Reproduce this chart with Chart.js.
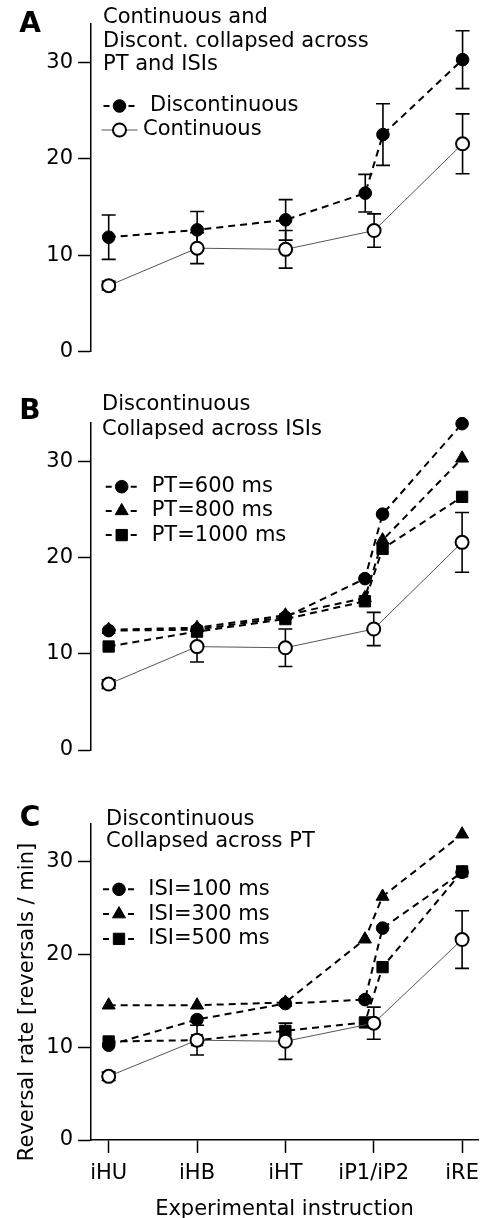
<!DOCTYPE html>
<html>
<head>
<meta charset="utf-8">
<title>Reversal rate</title>
<script src="https://cdn.jsdelivr.net/npm/chart.js@4.4.0/dist/chart.umd.min.js"></script>
<style>
  html, body { margin: 0; padding: 0; background: #fff; }
  #wrap { position: relative; width: 487px; height: 1218px; }
  canvas { position: absolute; left: 0; }
</style>
</head>
<body>
<div id="wrap">
  <canvas id="panelA" width="487" height="380" style="top:0px"></canvas>
  <canvas id="panelB" width="487" height="390" style="top:380px"></canvas>
  <canvas id="panelC" width="487" height="458" style="top:760px"></canvas>
</div>
<script>
// categorias e posicoes no eixo x (iP1 e iP2 ficam levemente deslocados)
const categories = ['iHU', 'iHB', 'iHT', 'iP1/iP2', 'iRE'];
const yTicks = [0, 10, 20, 30];
const contX = [0, 1, 2, 3, 4];
const discX = [0, 1, 2, 2.9, 3.1, 4];

// continuo (igual nos tres paineis)
const contMean = [6.85, 10.74, 10.62, 12.57, 21.57];
const contErr = [0.45, 1.6, 1.95, 1.73, 3.1];

// painel A - descontinuo
const discMean = [11.88, 12.64, 13.68, 16.45, 22.53, 30.3];
const discErr = [2.3, 1.9, 2.1, 1.95, 3.2, 3.0];

// painel B - por PT
const pt600 = [12.4, 12.5, 13.8, 17.8, 24.5, 33.9];
const pt800 = [12.5, 12.7, 14.0, 15.8, 21.8, 30.3];
const pt1000 = [10.75, 12.3, 13.6, 15.45, 20.9, 26.3];

// painel C - por ISI
const isi100 = [10.2, 12.96, 14.68, 15.1, 22.8, 28.8];
const isi300 = [14.5, 14.5, 14.8, 21.6, 26.2, 32.9];
const isi500 = [10.6, 10.74, 11.74, 12.65, 18.6, 28.9];

const FONT = 'DejaVu Sans';

function contSet(label) {
    return {
        label: label,
        data: contX.map((x, i) => ({ x: x, y: contMean[i] })),
        errors: contErr,
        showLine: true,
        clip: false,
        borderColor: '#555',
        borderWidth: 1,
        pointStyle: 'circle',
        pointRadius: 6.5,
        pointBorderWidth: 2,
        pointBackgroundColor: '#fff',
        pointBorderColor: '#000'
    };
}

function discSet(label, values, style, errors) {
    return {
        label: label,
        data: discX.map((x, i) => ({ x: x, y: values[i] })),
        errors: errors,
        showLine: true,
        clip: false,
        borderColor: '#000',
        borderWidth: 2,
        borderDash: [7, 5],
        pointStyle: style,
        pointRadius: style === 'rect' ? 8 : (style === 'triangle' ? 7.5 : 6.3),
        pointBorderWidth: 1,
        pointBackgroundColor: '#000',
        pointBorderColor: '#000'
    };
}

// barras de erro desenhadas antes de cada dataset
const errorBars = {
    id: 'errorBars',
    beforeDatasetDraw(chart, args) {
        const ds = chart.data.datasets[args.index];
        if (!ds.errors) return;
        const ctx = chart.ctx;
        const x = chart.scales.x, y = chart.scales.y;
        ctx.save();
        ctx.strokeStyle = '#000';
        ctx.lineWidth = 1.6;
        ds.data.forEach((p, i) => {
            const e = ds.errors[i];
            const px = x.getPixelForValue(p.x);
            const top = y.getPixelForValue(p.y + e);
            const bot = y.getPixelForValue(p.y - e);
            ctx.beginPath();
            ctx.moveTo(px, top); ctx.lineTo(px, bot);
            ctx.moveTo(px - 7, top); ctx.lineTo(px + 7, top);
            ctx.moveTo(px - 7, bot); ctx.lineTo(px + 7, bot);
            ctx.stroke();
        });
        ctx.restore();
    }
};

// letra do painel, titulo, legenda e titulo do eixo y
const panelText = {
    id: 'panelText',
    afterDraw(chart, args, opts) {
        const ctx = chart.ctx;
        ctx.save();
        ctx.fillStyle = '#000';
        ctx.textBaseline = 'middle';
        ctx.textAlign = 'center';
        ctx.font = 'bold 28px "' + FONT + '"';
        ctx.fillText(opts.letter, opts.letterPos[0], opts.letterPos[1]);

        ctx.font = '21px "' + FONT + '"';
        ctx.textAlign = 'left';
        opts.title.forEach((t, i) => ctx.fillText(t, opts.titleX, opts.titleY + i * opts.titleStep));

        opts.legend.forEach((item, i) => {
            const ds = chart.data.datasets[item.index];
            const ly = opts.legendY + i * opts.legendStep;
            const mx = opts.legendMarkerX;
            ctx.save();
            ctx.strokeStyle = ds.borderColor;
            ctx.lineWidth = ds.borderWidth;
            ctx.beginPath();
            if (ds.borderDash) {
                ctx.moveTo(mx - 16, ly); ctx.lineTo(mx - 10, ly);
                ctx.moveTo(mx + 9, ly); ctx.lineTo(mx + 15, ly);
            } else {
                ctx.moveTo(mx - 18, ly); ctx.lineTo(mx + 18, ly);
            }
            ctx.stroke();
            ctx.fillStyle = ds.pointBackgroundColor;
            ctx.strokeStyle = ds.pointBorderColor;
            ctx.lineWidth = ds.pointBorderWidth;
            Chart.helpers.drawPoint(ctx, {
                pointStyle: ds.pointStyle,
                radius: ds.pointRadius,
                borderWidth: ds.pointBorderWidth,
                rotation: 0
            }, mx, ly);
            ctx.restore();
            ctx.fillText(ds.label, item.textX, ly);
        });

        if (opts.yTitle) {
            ctx.save();
            ctx.translate(opts.yTitle.x, opts.yTitle.y);
            ctx.rotate(-Math.PI / 2);
            ctx.textAlign = 'center';
            ctx.fillText(opts.yTitle.text, 0, 0);
            ctx.restore();
        }
        ctx.restore();
    }
};

function makeChart(id, datasets, showX, padding, text) {
    const font = { family: FONT, size: 21 };
    return new Chart(document.getElementById(id), {
        type: 'scatter',
        data: { datasets: datasets },
        options: {
            responsive: false,
            animation: false,
            devicePixelRatio: 1,
            events: [],
            layout: { padding: padding },
            plugins: {
                legend: { display: false },
                tooltip: { enabled: false },
                panelText: text
            },
            scales: {
                x: {
                    type: 'linear',
                    min: -0.2,
                    max: 4.18,
                    display: showX,
                    afterBuildTicks: s => { s.ticks = categories.map((c, i) => ({ value: i })); },
                    afterFit: s => { if (showX) s.height = 78; },
                    border: { display: true, color: '#000', width: 1.5 },
                    grid: { drawOnChartArea: false, drawTicks: true, tickLength: 13, tickWidth: 1.5, tickColor: '#000' },
                    ticks: {
                        callback: v => categories[v],
                        color: '#000',
                        font: { family: FONT, size: 21, lineHeight: 2.0 },
                        padding: 0,
                        maxRotation: 0,
                        autoSkip: false
                    },
                    title: {
                        display: true,
                        text: 'Experimental instruction',
                        color: '#000',
                        font: font,
                        padding: { top: 0, bottom: -4 }
                    }
                },
                y: {
                    min: 0,
                    max: 34,
                    afterFit: s => { s.width = 91; },
                    afterBuildTicks: s => { s.ticks = yTicks.map(v => ({ value: v })); },
                    border: { display: true, color: '#000', width: 1.5 },
                    grid: { drawOnChartArea: false, drawTicks: true, tickLength: 13, tickWidth: 1.5, tickColor: '#000' },
                    ticks: { color: '#000', font: font, padding: 5 }
                }
            }
        },
        plugins: [errorBars, panelText]
    });
}

// Painel A
makeChart('panelA', [
    contSet('Continuous'),
    discSet('Discontinuous', discMean, 'circle', discErr)
], false, { top: 24, bottom: 28.3, left: 0, right: 7 }, {
    letter: 'A', letterPos: [30, 25],
    title: ['Continuous and', 'Discont. collapsed across', 'PT and ISIs'],
    titleX: 103, titleY: 18, titleStep: 23.5,
    legendY: 106, legendStep: 24, legendMarkerX: 119.5,
    legend: [{ index: 1, textX: 150 }, { index: 0, textX: 143 }]
});

// Painel B
makeChart('panelB', [
    contSet('Continuous'),
    discSet('PT=600 ms', pt600, 'circle'),
    discSet('PT=800 ms', pt800, 'triangle'),
    discSet('PT=1000 ms', pt1000, 'rect')
], false, { top: 42.7, bottom: 20, left: 0, right: 7 }, {
    letter: 'B', letterPos: [30, 31.7],
    title: ['Discontinuous', 'Collapsed across ISIs'],
    titleX: 102, titleY: 25, titleStep: 24.3,
    legendY: 106.7, legendStep: 24.2, legendMarkerX: 121.7,
    legend: [{ index: 1, textX: 151.7 }, { index: 2, textX: 151.7 }, { index: 3, textX: 151.7 }]
});

// Painel C
makeChart('panelC', [
    contSet('Continuous'),
    discSet('ISI=100 ms', isi100, 'circle'),
    discSet('ISI=300 ms', isi300, 'triangle'),
    discSet('ISI=500 ms', isi500, 'rect')
], true, { top: 64, bottom: 0, left: 0, right: 7 }, {
    letter: 'C', letterPos: [30, 59],
    title: ['Discontinuous', 'Collapsed across PT'],
    titleX: 106, titleY: 60, titleStep: 22,
    legendY: 129.3, legendStep: 24.8, legendMarkerX: 119,
    legend: [{ index: 1, textX: 148.3 }, { index: 2, textX: 148.3 }, { index: 3, textX: 148.3 }],
    yTitle: { text: 'Reversal rate [reversals / min]', x: 28, y: 242 }
});
</script>
</body>
</html>
